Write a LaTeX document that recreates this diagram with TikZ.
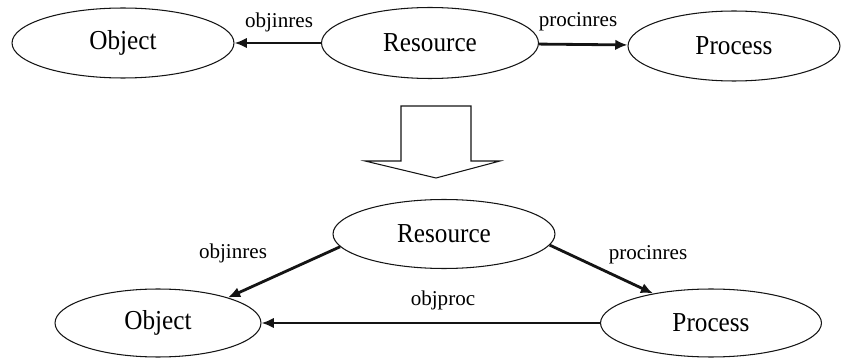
\documentclass[tikz,border=0pt]{standalone}
\usepackage{fontspec}
\setmainfont{Liberation Serif}
\newfontfamily\entfont{Liberation Serif}[FakeStretch=0.92]
\usepackage{tikz}
\usetikzlibrary{arrows.meta,shapes.geometric}
\definecolor{figline}{RGB}{20,20,20}
\tikzset{
  ent/.style ={ellipse, draw=figline, line width=0.6pt, inner sep=0pt, font=\entfont\fontsize{15.6}{17}\selectfont},
  lnk/.style ={draw=figline, line width=1.6pt, -{Latex[length=7pt,width=6pt]}},
  lab/.style ={font=\fontsize{12}{14}\selectfont, inner sep=1pt},
  bigarr/.style ={draw=figline, line width=0.6pt, line join=miter},
}
\begin{document}
\begin{tikzpicture}[x=0.02cm,y=-0.02cm]
  \useasboundingbox (0,0) rectangle (843,358);
  % before
  \node[ent,minimum width=4.44cm,minimum height=1.40cm] (obj) at (123,43) {Object};
  \node[ent,minimum width=4.34cm,minimum height=1.42cm] (res) at (430,43) {Resource};
  \node[ent,minimum width=4.24cm,minimum height=1.40cm] (proc) at (734,46) {Process};
  \draw[lnk] (res) -- (obj);
  \draw[lnk] (res) -- (proc);
  \node[lab] (objinres) at (279,22) {objinres};
  \node[lab] (procinres) at (578,22) {procinres};
  % big arrow
  \draw[bigarr] (401,106) -- (471,106) -- (471,161) -- (500,161) -- (436,178)
    -- (365,161) -- (401,161) -- cycle;
  % after
  \node[ent,minimum width=4.44cm,minimum height=1.38cm] (res2) at (444,234) {Resource};
  \node[ent,minimum width=4.12cm,minimum height=1.36cm] (obj2) at (158,323) {Object};
  \node[ent,minimum width=4.42cm,minimum height=1.36cm] (proc2) at (711,323) {Process};
  \draw[lnk] (res2.187) -- (obj2.20);
  \draw[lnk] (res2.354) -- (proc2.153);
  \draw[lnk] (proc2) -- (obj2);
  \node[lab] (objinres2) at (233,253) {objinres};
  \node[lab] (procinres2) at (648,255) {procinres};
  \node[lab] (objproc) at (443,300) {objproc};
\end{tikzpicture}
\end{document}
